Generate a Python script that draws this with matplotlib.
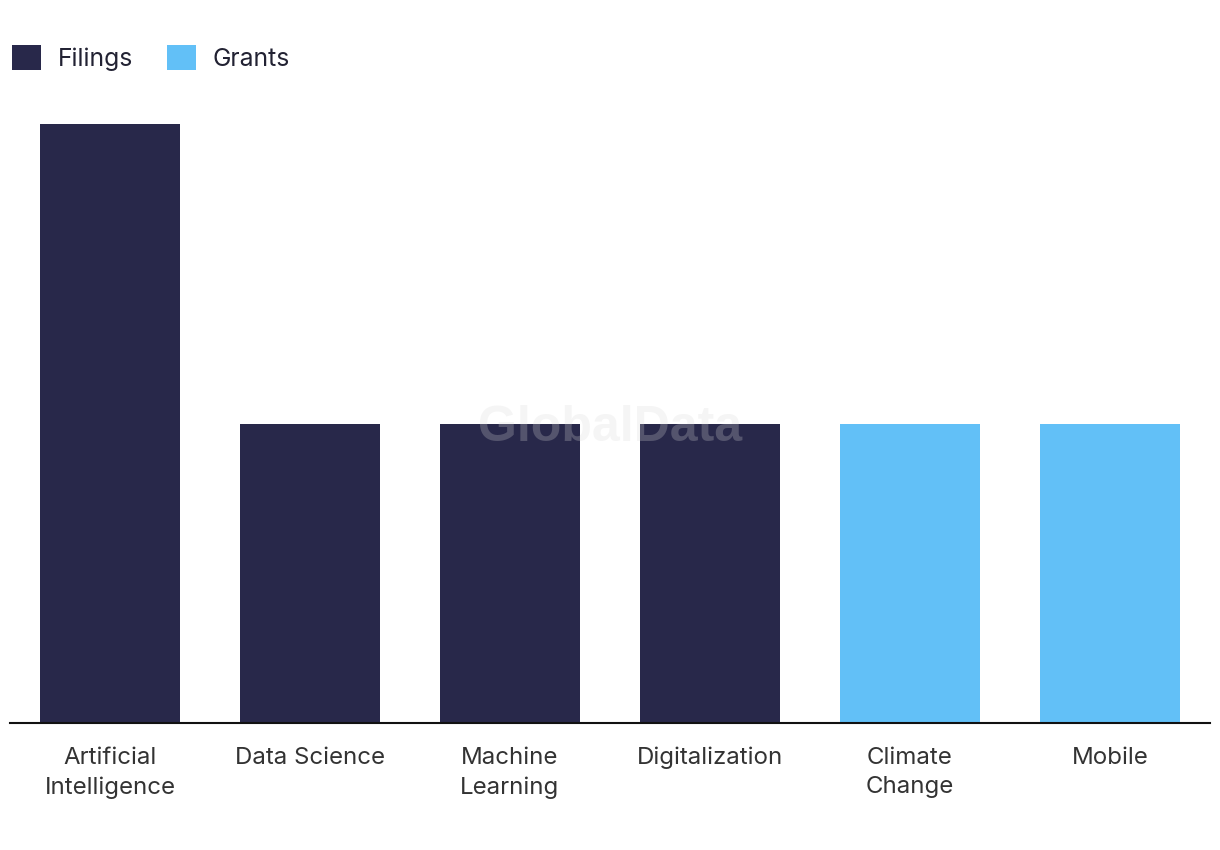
import matplotlib
matplotlib.use("Agg")
import matplotlib.pyplot as plt
from matplotlib.patches import Patch

categories = ["Artificial\nIntelligence", "Data Science", "Machine\nLearning",
              "Digitalization", "Climate\nChange", "Mobile"]
values = [2, 1, 1, 1, 1, 1]
series = ["Filings", "Filings", "Filings", "Filings", "Grants", "Grants"]
colors_map = {"Filings": "#28284a", "Grants": "#62c0f7"}

plt.rcParams['font.family'] = ['Inter', 'DejaVu Sans']

fig = plt.figure(figsize=(12.2, 8.5), dpi=100)
ax = fig.add_axes([10/1220, 1-723/850, 1200/1220, (723-124)/850])

x = list(range(len(categories)))
ax.bar(x, values, width=0.7, color=[colors_map[s] for s in series], zorder=2)
ax.set_xlim(-0.5, len(categories)-0.5)
ax.set_ylim(0, max(values))
ax.set_xticks(x)
ax.set_xticklabels(categories, fontsize=17.3, color="#333333", linespacing=1.45)
ax.tick_params(axis='x', length=0, pad=17)
ax.set_yticks([])
for s in ["top", "right", "left"]:
    ax.spines[s].set_visible(False)
ax.spines["bottom"].set_color("#111111")
ax.spines["bottom"].set_linewidth(1.5)
ax.spines["bottom"].set_zorder(3)

handles = [Patch(facecolor=colors_map[k], edgecolor='none', label=k) for k in ["Filings", "Grants"]]
fig.legend(handles=handles, loc="upper left", bbox_to_anchor=(0.0, 1-33/850), ncol=2,
           frameon=False, fontsize=17.8, handlelength=1.15, handleheight=1.15,
           handletextpad=0.68, columnspacing=1.4, borderaxespad=0, borderpad=0.5,
           labelcolor="#222233")

fig.text(610/1220, 1-428/850, "GlobalData", ha="center", va="center", fontsize=36,
         fontweight="bold", color="#d8d8d8", alpha=0.25, zorder=10, family="Liberation Sans")

fig.savefig("out.png", dpi=100, facecolor="white")
